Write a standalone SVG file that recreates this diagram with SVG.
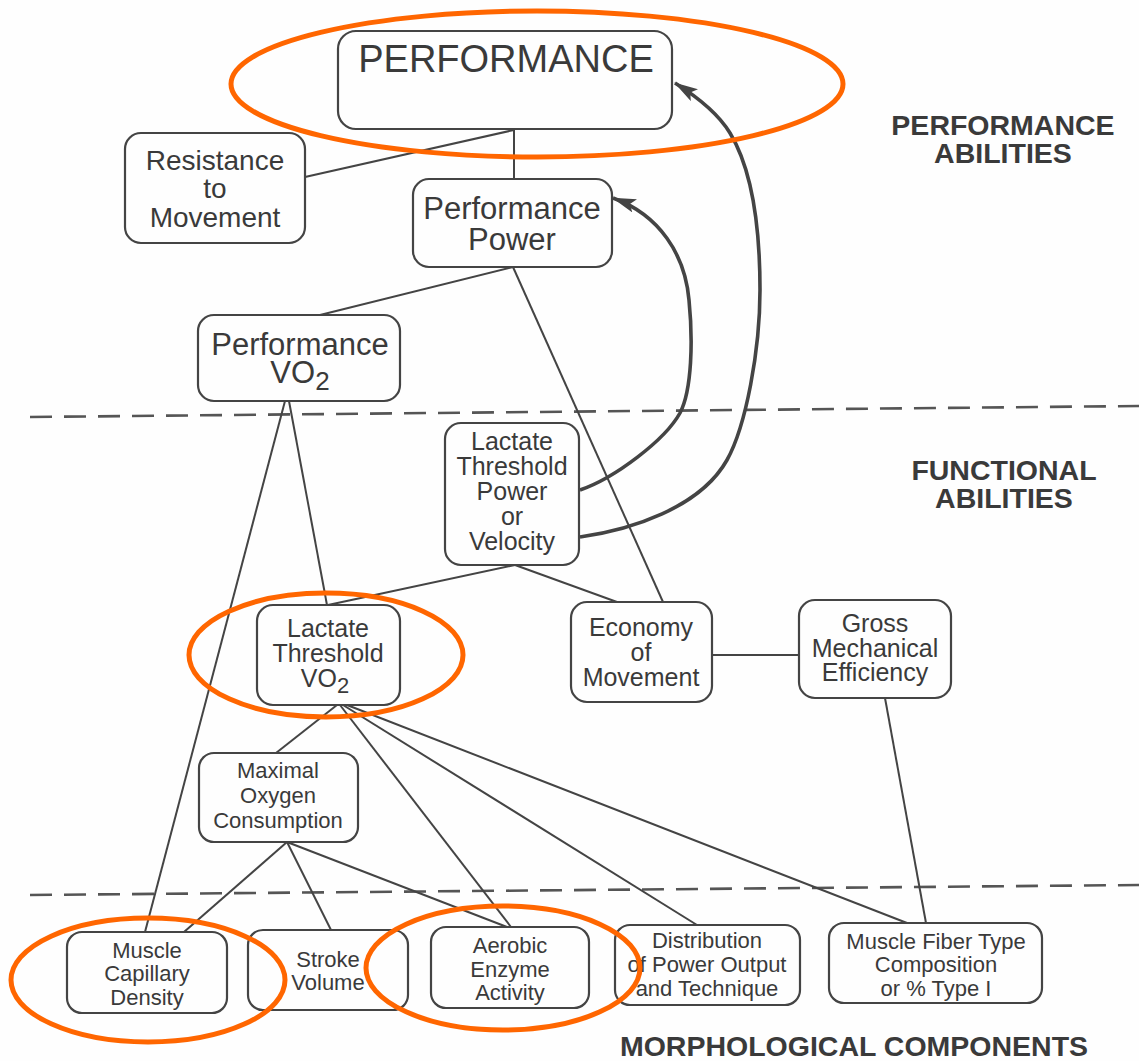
<svg xmlns="http://www.w3.org/2000/svg" width="1139" height="1061" viewBox="0 0 1139 1061">
<style>
  .box { fill: #fefefe; stroke: #444; stroke-width: 2.2; }
  .t { font-family: "Liberation Sans", Arial, sans-serif; fill: #3a3a3a; text-anchor: middle; }
  .lbl { font-family: "Liberation Sans", Arial, sans-serif; font-weight: bold; fill: #3a3a3a; text-anchor: middle; font-size: 28.5px; }
  .ln { stroke: #444; stroke-width: 2; fill: none; }
  .arc { stroke: #444; stroke-width: 3.6; fill: none; marker-end: url(#ah); }
  .dash { stroke: #555; stroke-width: 2.6; stroke-dasharray: 22 12; fill: none; }
  .hl { fill: none; stroke: #ff6600; stroke-width: 5; }
</style>
<defs>
  <marker id="ah" viewBox="0 0 24 14" refX="23" refY="7" markerWidth="24" markerHeight="14" markerUnits="userSpaceOnUse" orient="auto">
    <path d="M0,0 L24,7 L0,14 L5,7 z" fill="#444"/>
  </marker>
</defs>
<rect width="1139" height="1061" fill="#fefefe"/>

<g id="separators">
  <line class="dash" x1="30" y1="417" x2="1139" y2="406"/>
  <line class="dash" x1="30" y1="895" x2="1139" y2="885"/>
</g>

<g id="connectors">
  <line class="ln" x1="514" y1="130" x2="305" y2="177"/>
  <line class="ln" x1="514" y1="130" x2="514" y2="179"/>
  <line class="ln" x1="513" y1="267" x2="320" y2="315"/>
  <line class="ln" x1="513" y1="267" x2="663" y2="602"/>
  <line class="ln" x1="285" y1="401" x2="145" y2="932"/>
  <line class="ln" x1="289" y1="401" x2="327" y2="605"/>
  <line class="ln" x1="515" y1="565" x2="328" y2="605"/>
  <line class="ln" x1="515" y1="565" x2="617" y2="602"/>
  <line class="ln" x1="712" y1="655" x2="799" y2="655"/>
  <line class="ln" x1="885" y1="698" x2="926" y2="923"/>
  <line class="ln" x1="337" y1="705" x2="276" y2="753"/>
  <line class="ln" x1="340" y1="705" x2="511" y2="927"/>
  <line class="ln" x1="343" y1="705" x2="697" y2="925"/>
  <line class="ln" x1="347" y1="705" x2="907" y2="923"/>
  <line class="ln" x1="287" y1="842" x2="184" y2="932"/>
  <line class="ln" x1="287" y1="842" x2="331" y2="930"/>
  <line class="ln" x1="287" y1="842" x2="507" y2="927"/>
  <path class="arc" d="M580,490 C615,478 665,440 680,413 C692,390 693,340 689,300 C685,255 660,215 613,198"/>
  <path class="arc" d="M580,537 C630,530 700,508 727,460 C746,426 760,350 760,290 C760,230 753,171 730,133 C716,110 691,93 675,83"/>
</g>

<g id="n-performance">
  <rect class="box" x="338" y="31" width="334" height="98" rx="18"/>
  <text class="t" x="506" y="72" font-size="38">PERFORMANCE</text>
</g>
<g id="n-resistance">
  <rect class="box" x="125" y="133" width="180" height="110" rx="16"/>
  <text class="t" x="215" font-size="28"><tspan x="215" y="170">Resistance</tspan><tspan x="215" y="198">to</tspan><tspan x="215" y="227">Movement</tspan></text>
</g>
<g id="n-perfpower">
  <rect class="box" x="413" y="179" width="199" height="88" rx="16"/>
  <text class="t" font-size="31"><tspan x="512" y="219">Performance</tspan><tspan x="512" y="250">Power</tspan></text>
</g>
<g id="n-perfvo2">
  <rect class="box" x="198" y="315" width="202" height="86" rx="16"/>
  <text class="t" font-size="31"><tspan x="300" y="355">Performance</tspan><tspan x="300" y="383">VO<tspan font-size="26" dy="7">2</tspan></tspan></text>
</g>
<g id="n-ltpower">
  <rect class="box" x="445" y="423" width="134" height="142" rx="16"/>
  <text class="t" font-size="25"><tspan x="512" y="450">Lactate</tspan><tspan x="512" y="475">Threshold</tspan><tspan x="512" y="500">Power</tspan><tspan x="512" y="525">or</tspan><tspan x="512" y="550">Velocity</tspan></text>
</g>
<g id="n-ltvo2">
  <rect class="box" x="257" y="605" width="143" height="100" rx="16"/>
  <text class="t" font-size="25"><tspan x="328" y="637">Lactate</tspan><tspan x="328" y="662">Threshold</tspan><tspan x="325" y="687">VO<tspan font-size="22" dy="6">2</tspan></tspan></text>
</g>
<g id="n-economy">
  <rect class="box" x="571" y="602" width="141" height="100" rx="16"/>
  <text class="t" font-size="25"><tspan x="641" y="636">Economy</tspan><tspan x="641" y="661">of</tspan><tspan x="641" y="686">Movement</tspan></text>
</g>
<g id="n-gross">
  <rect class="box" x="799" y="600" width="152" height="98" rx="16"/>
  <text class="t" font-size="25"><tspan x="875" y="632">Gross</tspan><tspan x="875" y="657">Mechanical</tspan><tspan x="875" y="681">Efficiency</tspan></text>
</g>
<g id="n-maximal">
  <rect class="box" x="199" y="753" width="159" height="89" rx="15"/>
  <text class="t" font-size="22"><tspan x="278" y="778">Maximal</tspan><tspan x="278" y="803">Oxygen</tspan><tspan x="278" y="828">Consumption</tspan></text>
</g>
<g id="n-capillary">
  <rect class="box" x="67" y="932" width="160" height="81" rx="15"/>
  <text class="t" font-size="22"><tspan x="147" y="958">Muscle</tspan><tspan x="147" y="981">Capillary</tspan><tspan x="147" y="1005">Density</tspan></text>
</g>
<g id="n-stroke">
  <rect class="box" x="248" y="930" width="160" height="80" rx="15"/>
  <text class="t" font-size="22"><tspan x="328" y="967">Stroke</tspan><tspan x="328" y="990">Volume</tspan></text>
</g>
<g id="n-aerobic">
  <rect class="box" x="431" y="927" width="158" height="81" rx="15"/>
  <text class="t" font-size="22"><tspan x="510" y="953">Aerobic</tspan><tspan x="510" y="977">Enzyme</tspan><tspan x="510" y="1000">Activity</tspan></text>
</g>
<g id="n-distribution">
  <rect class="box" x="615" y="925" width="185" height="80" rx="15"/>
  <text class="t" font-size="22"><tspan x="707" y="948">Distribution</tspan><tspan x="707" y="972">of Power Output</tspan><tspan x="707" y="996">and Technique</tspan></text>
</g>
<g id="n-fibertype">
  <rect class="box" x="829" y="923" width="213" height="80" rx="15"/>
  <text class="t" font-size="22"><tspan x="936" y="949">Muscle Fiber Type</tspan><tspan x="936" y="972">Composition</tspan><tspan x="936" y="996">or % Type I</tspan></text>
</g>

<g id="labels">
  <text class="lbl"><tspan x="1003" y="135">PERFORMANCE</tspan><tspan x="1003" y="163">ABILITIES</tspan></text>
  <text class="lbl"><tspan x="1004" y="480">FUNCTIONAL</tspan><tspan x="1004" y="508">ABILITIES</tspan></text>
  <text class="lbl" x="854" y="1056">MORPHOLOGICAL COMPONENTS</text>
</g>

<g id="highlights">
  <ellipse class="hl" cx="537" cy="84" rx="306" ry="73"/>
  <ellipse class="hl" cx="326" cy="655" rx="137" ry="62"/>
  <ellipse class="hl" cx="148" cy="980" rx="137" ry="62"/>
  <ellipse class="hl" cx="503" cy="968" rx="137" ry="62"/>
</g>
</svg>
